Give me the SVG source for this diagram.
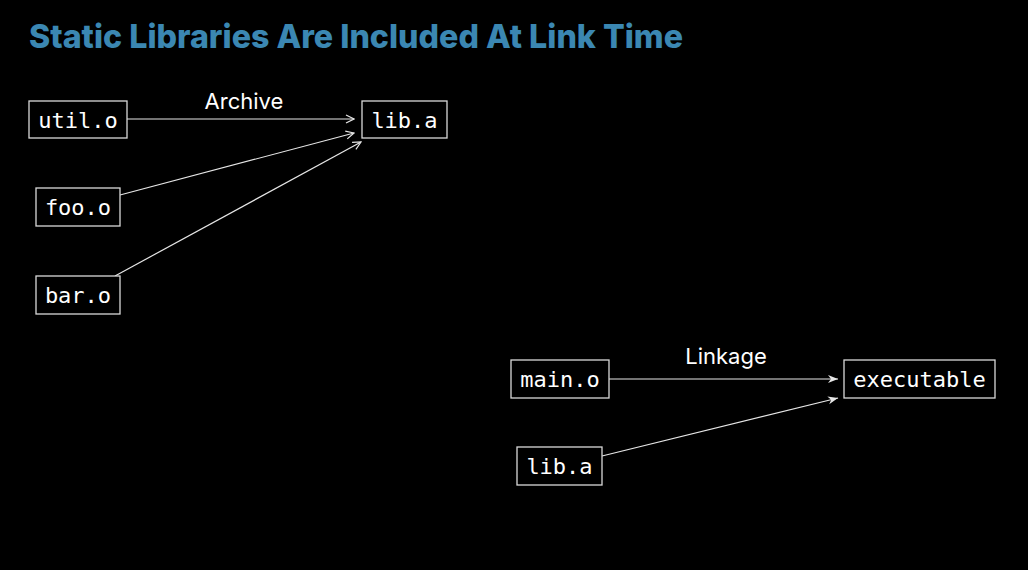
<svg xmlns="http://www.w3.org/2000/svg" width="1028" height="570" viewBox="0 0 1028 570">
<defs>
<style>
.box{fill:#000;stroke:#d9d9d9;stroke-width:1.3}
.mono{font-family:"DejaVu Sans Mono","Liberation Mono",monospace;font-size:22px;fill:#fff;text-anchor:middle}
.lbl{font-family:Inter,"Liberation Sans",sans-serif;font-size:22px;fill:#fff;text-anchor:middle}
.edge{stroke:#e6e6e6;stroke-width:1.2;fill:none}
</style>
<marker id="open" viewBox="0 0 10 10" refX="9" refY="5" markerWidth="10" markerHeight="10" markerUnits="userSpaceOnUse" orient="auto">
<path d="M1,1 L9,5 L1,9" fill="none" stroke="#e6e6e6" stroke-width="1.2"/>
</marker>
<marker id="fill" viewBox="0 0 10 10" refX="10" refY="5" markerWidth="10" markerHeight="10" markerUnits="userSpaceOnUse" orient="auto">
<path d="M0,1 L10,5 L0,9 L3,5 Z" fill="#e6e6e6"/>
</marker>
</defs>
<rect width="1028" height="570" fill="#000"/>
<text x="29" y="48" font-family="Inter,'Liberation Sans',sans-serif" font-weight="800" font-size="33" fill="#3b87b2" textLength="654" lengthAdjust="spacingAndGlyphs">Static Libraries Are Included At Link Time</text>
<g id="connectors">
<path class="edge" d="M127,119 L354,119" marker-end="url(#open)"/>
<path class="edge" d="M120,195 L354,133" marker-end="url(#open)"/>
<path class="edge" d="M115,276 L361,142" marker-end="url(#open)"/>
<path class="edge" d="M609,379 L838,379" marker-end="url(#fill)"/>
<path class="edge" d="M602,456 L838,398" marker-end="url(#fill)"/>
<text class="lbl" x="244" y="109">Archive</text>
<text class="lbl" x="726" y="364">Linkage</text>
</g>
<g id="util"><rect class="box" x="29" y="101" width="98" height="37"/><text class="mono" x="78" y="128">util.o</text></g>
<g id="liba"><rect class="box" x="362" y="101" width="85" height="37"/><text class="mono" x="404.5" y="128">lib.a</text></g>
<g id="foo"><rect class="box" x="36" y="188" width="84" height="38"/><text class="mono" x="78" y="215">foo.o</text></g>
<g id="bar"><rect class="box" x="36" y="276" width="84" height="38"/><text class="mono" x="78" y="303">bar.o</text></g>
<g id="main"><rect class="box" x="511" y="360" width="98" height="38"/><text class="mono" x="560" y="387">main.o</text></g>
<g id="exe"><rect class="box" x="844" y="360" width="151" height="38"/><text class="mono" x="919.5" y="387">executable</text></g>
<g id="liba2"><rect class="box" x="517" y="447" width="85" height="38"/><text class="mono" x="559.5" y="474">lib.a</text></g>
</svg>
